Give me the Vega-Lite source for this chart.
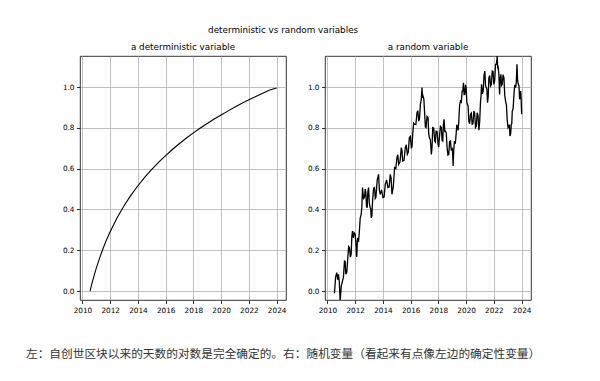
{
  "$schema": "https://vega.github.io/schema/vega-lite/v6.json",
  "padding": {"left": 25, "top": 26, "right": 5, "bottom": 5},
  "background": "white",
  "config": {
    "font": "DejaVu Sans",
    "view": {"stroke": "black", "strokeWidth": 0.8},
    "axis": {"domain": false, "grid": true, "gridColor": "#b0b0b0", "gridWidth": 0.8, "tickColor": "black", "tickSize": 3.5, "tickWidth": 0.8, "labelFontSize": 7.3, "labelColor": "black", "labelPadding": 2.5, "title": null, "labelFont": "DejaVu Sans"},
    "title": {"font": "DejaVu Sans", "fontWeight": "normal", "fontSize": 8.8, "color": "black"}
  },
  "title": {"text": "deterministic vs random variables", "anchor": "middle", "offset": 8},
  "datasets": {
    "det": [
      {"t": 2010.55, "v": 0}, {"t": 2010.6, "v": 0.014}, {"t": 2010.7, "v": 0.041}, {"t": 2010.8, "v": 0.066}, {"t": 2010.9, "v": 0.089},
      {"t": 2011.0, "v": 0.112}, {"t": 2011.25, "v": 0.164}, {"t": 2011.5, "v": 0.211}, {"t": 2011.75, "v": 0.253}, {"t": 2012.0, "v": 0.291},
      {"t": 2012.5, "v": 0.359}, {"t": 2013.0, "v": 0.418}, {"t": 2013.5, "v": 0.470}, {"t": 2014.0, "v": 0.516}, {"t": 2014.5, "v": 0.558},
      {"t": 2015.0, "v": 0.596}, {"t": 2015.5, "v": 0.632}, {"t": 2016.0, "v": 0.664}, {"t": 2016.5, "v": 0.695}, {"t": 2017.0, "v": 0.723},
      {"t": 2017.5, "v": 0.750}, {"t": 2018.0, "v": 0.775}, {"t": 2018.5, "v": 0.799}, {"t": 2019.0, "v": 0.821}, {"t": 2019.5, "v": 0.843},
      {"t": 2020.0, "v": 0.863}, {"t": 2020.5, "v": 0.883}, {"t": 2021.0, "v": 0.902}, {"t": 2021.5, "v": 0.920}, {"t": 2022.0, "v": 0.937},
      {"t": 2022.5, "v": 0.954}, {"t": 2023.0, "v": 0.970}, {"t": 2023.5, "v": 0.985}, {"t": 2024.0, "v": 0.995}
    ],
    "rnd": [
      {"t": 2010.506, "v": -0.011}, {"t": 2010.590, "v": 0.070}, {"t": 2010.675, "v": 0.090}, {"t": 2010.735, "v": 0.056}, {"t": 2010.795, "v": 0.082},
      {"t": 2010.855, "v": 0.047}, {"t": 2010.916, "v": -0.049}, {"t": 2011.000, "v": 0.025}, {"t": 2011.084, "v": 0.049}, {"t": 2011.156, "v": 0.068},
      {"t": 2011.229, "v": 0.147}, {"t": 2011.277, "v": 0.145}, {"t": 2011.325, "v": 0.082}, {"t": 2011.398, "v": 0.093}, {"t": 2011.470, "v": 0.163},
      {"t": 2011.530, "v": 0.218}, {"t": 2011.590, "v": 0.212}, {"t": 2011.651, "v": 0.166}, {"t": 2011.711, "v": 0.180}, {"t": 2011.759, "v": 0.267},
      {"t": 2011.807, "v": 0.294}, {"t": 2011.868, "v": 0.260}, {"t": 2011.928, "v": 0.286}, {"t": 2012.000, "v": 0.279}, {"t": 2012.072, "v": 0.212},
      {"t": 2012.096, "v": 0.168}, {"t": 2012.120, "v": 0.172}, {"t": 2012.157, "v": 0.247}, {"t": 2012.193, "v": 0.261}, {"t": 2012.241, "v": 0.240},
      {"t": 2012.289, "v": 0.278}, {"t": 2012.362, "v": 0.357}, {"t": 2012.434, "v": 0.376}, {"t": 2012.482, "v": 0.412}, {"t": 2012.530, "v": 0.507},
      {"t": 2012.603, "v": 0.453}, {"t": 2012.675, "v": 0.458}, {"t": 2012.723, "v": 0.500}, {"t": 2012.771, "v": 0.482}, {"t": 2012.819, "v": 0.415},
      {"t": 2012.867, "v": 0.408}, {"t": 2012.916, "v": 0.488}, {"t": 2012.964, "v": 0.507}, {"t": 2013.024, "v": 0.428}, {"t": 2013.084, "v": 0.408},
      {"t": 2013.120, "v": 0.404}, {"t": 2013.157, "v": 0.359}, {"t": 2013.205, "v": 0.370}, {"t": 2013.253, "v": 0.441}, {"t": 2013.326, "v": 0.504},
      {"t": 2013.398, "v": 0.507}, {"t": 2013.446, "v": 0.453}, {"t": 2013.494, "v": 0.458}, {"t": 2013.590, "v": 0.545}, {"t": 2013.687, "v": 0.572},
      {"t": 2013.747, "v": 0.493}, {"t": 2013.807, "v": 0.474}, {"t": 2013.904, "v": 0.496}, {"t": 2014.000, "v": 0.458}, {"t": 2014.084, "v": 0.461},
      {"t": 2014.169, "v": 0.523}, {"t": 2014.265, "v": 0.545}, {"t": 2014.361, "v": 0.507}, {"t": 2014.446, "v": 0.510}, {"t": 2014.530, "v": 0.572},
      {"t": 2014.590, "v": 0.553}, {"t": 2014.651, "v": 0.474}, {"t": 2014.747, "v": 0.510}, {"t": 2014.843, "v": 0.605}, {"t": 2014.928, "v": 0.600},
      {"t": 2015.012, "v": 0.654}, {"t": 2015.072, "v": 0.668}, {"t": 2015.133, "v": 0.621}, {"t": 2015.229, "v": 0.632}, {"t": 2015.325, "v": 0.703},
      {"t": 2015.374, "v": 0.690}, {"t": 2015.422, "v": 0.637}, {"t": 2015.518, "v": 0.640}, {"t": 2015.614, "v": 0.703}, {"t": 2015.687, "v": 0.717},
      {"t": 2015.759, "v": 0.670}, {"t": 2015.831, "v": 0.681}, {"t": 2015.904, "v": 0.752}, {"t": 2015.976, "v": 0.758}, {"t": 2016.048, "v": 0.703},
      {"t": 2016.097, "v": 0.706}, {"t": 2016.145, "v": 0.768}, {"t": 2016.217, "v": 0.823}, {"t": 2016.289, "v": 0.817}, {"t": 2016.374, "v": 0.816},
      {"t": 2016.458, "v": 0.874}, {"t": 2016.518, "v": 0.884}, {"t": 2016.578, "v": 0.833}, {"t": 2016.639, "v": 0.844}, {"t": 2016.699, "v": 0.915},
      {"t": 2016.759, "v": 0.936}, {"t": 2016.819, "v": 0.997}, {"t": 2016.856, "v": 0.947}, {"t": 2016.892, "v": 0.956}, {"t": 2016.952, "v": 0.941},
      {"t": 2017.012, "v": 0.866}, {"t": 2017.060, "v": 0.804}, {"t": 2017.108, "v": 0.801}, {"t": 2017.181, "v": 0.856}, {"t": 2017.253, "v": 0.850},
      {"t": 2017.301, "v": 0.771}, {"t": 2017.349, "v": 0.752}, {"t": 2017.422, "v": 0.741}, {"t": 2017.494, "v": 0.670}, {"t": 2017.542, "v": 0.706},
      {"t": 2017.590, "v": 0.801}, {"t": 2017.663, "v": 0.798}, {"t": 2017.735, "v": 0.735}, {"t": 2017.783, "v": 0.730}, {"t": 2017.831, "v": 0.784},
      {"t": 2017.904, "v": 0.782}, {"t": 2017.976, "v": 0.719}, {"t": 2018.024, "v": 0.706}, {"t": 2018.072, "v": 0.752}, {"t": 2018.145, "v": 0.807},
      {"t": 2018.217, "v": 0.801}, {"t": 2018.265, "v": 0.738}, {"t": 2018.313, "v": 0.735}, {"t": 2018.362, "v": 0.819}, {"t": 2018.410, "v": 0.842},
      {"t": 2018.458, "v": 0.783}, {"t": 2018.506, "v": 0.784}, {"t": 2018.567, "v": 0.774}, {"t": 2018.627, "v": 0.703}, {"t": 2018.687, "v": 0.667},
      {"t": 2018.747, "v": 0.670}, {"t": 2018.807, "v": 0.733}, {"t": 2018.867, "v": 0.735}, {"t": 2018.928, "v": 0.689}, {"t": 2018.988, "v": 0.703},
      {"t": 2019.024, "v": 0.678}, {"t": 2019.060, "v": 0.613}, {"t": 2019.109, "v": 0.694}, {"t": 2019.157, "v": 0.735}, {"t": 2019.217, "v": 0.722},
      {"t": 2019.277, "v": 0.768}, {"t": 2019.325, "v": 0.815}, {"t": 2019.373, "v": 0.801}, {"t": 2019.422, "v": 0.787}, {"t": 2019.470, "v": 0.833},
      {"t": 2019.530, "v": 0.912}, {"t": 2019.590, "v": 0.931}, {"t": 2019.651, "v": 0.926}, {"t": 2019.711, "v": 0.980}, {"t": 2019.759, "v": 0.980},
      {"t": 2019.807, "v": 1.021}, {"t": 2019.856, "v": 0.963}, {"t": 2019.904, "v": 0.964}, {"t": 2019.952, "v": 1.011}, {"t": 2020.000, "v": 0.997},
      {"t": 2020.048, "v": 0.926}, {"t": 2020.096, "v": 0.915}, {"t": 2020.145, "v": 0.904}, {"t": 2020.193, "v": 0.833}, {"t": 2020.253, "v": 0.820},
      {"t": 2020.313, "v": 0.866}, {"t": 2020.374, "v": 0.872}, {"t": 2020.434, "v": 0.817}, {"t": 2020.494, "v": 0.820}, {"t": 2020.554, "v": 0.882},
      {"t": 2020.615, "v": 0.872}, {"t": 2020.675, "v": 0.801}, {"t": 2020.735, "v": 0.808}, {"t": 2020.795, "v": 0.874}, {"t": 2020.856, "v": 0.861},
      {"t": 2020.916, "v": 0.788}, {"t": 2020.976, "v": 0.830}, {"t": 2021.036, "v": 0.931}, {"t": 2021.072, "v": 0.952}, {"t": 2021.108, "v": 1.013},
      {"t": 2021.169, "v": 0.967}, {"t": 2021.229, "v": 0.980}, {"t": 2021.289, "v": 1.059}, {"t": 2021.349, "v": 1.078}, {"t": 2021.398, "v": 1.008},
      {"t": 2021.446, "v": 0.997}, {"t": 2021.494, "v": 0.990}, {"t": 2021.542, "v": 0.923}, {"t": 2021.591, "v": 0.955}, {"t": 2021.639, "v": 1.046},
      {"t": 2021.699, "v": 1.056}, {"t": 2021.759, "v": 1.005}, {"t": 2021.820, "v": 1.012}, {"t": 2021.880, "v": 1.078}, {"t": 2021.940, "v": 1.076},
      {"t": 2022.000, "v": 1.013}, {"t": 2022.060, "v": 1.032}, {"t": 2022.120, "v": 1.111}, {"t": 2022.181, "v": 1.112}, {"t": 2022.241, "v": 1.152},
      {"t": 2022.277, "v": 1.090}, {"t": 2022.313, "v": 1.095}, {"t": 2022.362, "v": 1.060}, {"t": 2022.410, "v": 0.964}, {"t": 2022.458, "v": 1.043},
      {"t": 2022.506, "v": 1.062}, {"t": 2022.554, "v": 1.008}, {"t": 2022.602, "v": 1.013}, {"t": 2022.663, "v": 1.060}, {"t": 2022.723, "v": 1.046},
      {"t": 2022.783, "v": 0.959}, {"t": 2022.843, "v": 0.931}, {"t": 2022.904, "v": 0.912}, {"t": 2022.964, "v": 0.833}, {"t": 2023.024, "v": 0.801},
      {"t": 2023.084, "v": 0.809}, {"t": 2023.120, "v": 0.815}, {"t": 2023.157, "v": 0.760}, {"t": 2023.205, "v": 0.769}, {"t": 2023.253, "v": 0.817},
      {"t": 2023.289, "v": 0.820}, {"t": 2023.325, "v": 0.882}, {"t": 2023.386, "v": 0.893}, {"t": 2023.446, "v": 0.964}, {"t": 2023.506, "v": 1.011},
      {"t": 2023.566, "v": 0.997}, {"t": 2023.615, "v": 1.024}, {"t": 2023.663, "v": 1.111}, {"t": 2023.711, "v": 1.032}, {"t": 2023.759, "v": 1.013},
      {"t": 2023.807, "v": 1.007}, {"t": 2023.855, "v": 0.940}, {"t": 2023.892, "v": 0.950}, {"t": 2023.928, "v": 0.980}, {"t": 2023.964, "v": 0.943},
      {"t": 2024.000, "v": 0.866}
    ]
  },
  "vconcat": [
    {
      "title": {"text": "左：自创世区块以来的天数的对数是完全确定的。右：随机变量（看起来有点像左边的确定性变量）", "orient": "bottom", "anchor": "start", "fontSize": 11.7, "font": "Noto Sans CJK SC", "color": "#333333", "dx": -36, "offset": 35},
      "spacing": 19,
      "hconcat": [
        {
          "width": 206,
          "height": 244,
          "title": {"text": "a deterministic variable", "offset": 4},
          "data": {"name": "det"},
          "mark": {"type": "line", "color": "black", "strokeWidth": 1.1, "clip": true},
          "encoding": {
            "x": {"field": "t", "type": "quantitative", "scale": {"domain": [2009.825, 2024.675], "nice": false, "zero": false}, "axis": {"values": [2010, 2012, 2014, 2016, 2018, 2020, 2022, 2024], "format": "d"}},
            "y": {"field": "v", "type": "quantitative", "scale": {"domain": [-0.044, 1.152], "nice": false, "zero": false}, "axis": {"values": [0, 0.2, 0.4, 0.6, 0.8, 1.0], "format": ".1f"}}
          }
        },
        {
          "width": 206,
          "height": 244,
          "title": {"text": "a random variable", "offset": 4},
          "data": {"name": "rnd"},
          "mark": {"type": "line", "color": "black", "strokeWidth": 1.3, "clip": true},
          "encoding": {
            "x": {"field": "t", "type": "quantitative", "scale": {"domain": [2009.825, 2024.675], "nice": false, "zero": false}, "axis": {"values": [2010, 2012, 2014, 2016, 2018, 2020, 2022, 2024], "format": "d"}},
            "y": {"field": "v", "type": "quantitative", "scale": {"domain": [-0.044, 1.152], "nice": false, "zero": false}, "axis": {"values": [0, 0.2, 0.4, 0.6, 0.8, 1.0], "format": ".1f"}}
          }
        }
      ]
    }
  ]
}
